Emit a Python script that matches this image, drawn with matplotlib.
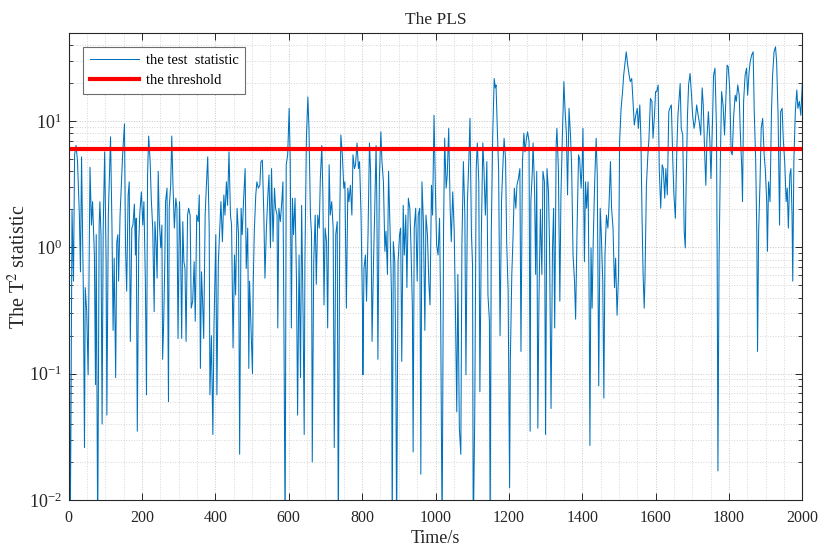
import numpy as np
import matplotlib
matplotlib.use("Agg")
import matplotlib.pyplot as plt
from matplotlib.ticker import LogLocator, MultipleLocator, NullFormatter, LogFormatterMathtext

plt.rcParams['font.family'] = ['Liberation Serif', 'DejaVu Serif']
plt.rcParams['mathtext.fontset'] = 'stix'

# values, in 400 s chunks
t_0 = [0, 2, 4, 6, 9, 13, 16, 20, 24, 29,
       32, 35, 40, 43, 45, 49, 53, 58, 62, 65,
       70, 73, 75, 79, 83, 85, 88, 91, 94, 98,
       102, 104, 108, 112, 114, 118, 121, 124, 128, 131,
       134, 136, 140, 144, 147, 152, 155, 158, 162, 165,
       168, 172, 175, 179, 182, 184, 187, 191, 194, 198,
       202, 205, 209, 212, 215, 218, 222, 225, 229, 233,
       235, 238, 241, 244, 247, 251, 254, 256, 259, 262,
       264, 268, 272, 274, 278, 281, 284, 288, 292, 295,
       298, 302, 305, 308, 311, 314, 317, 320, 324, 327,
       331, 334, 338, 342, 345, 349, 353, 356, 359, 362,
       365, 368, 372, 375, 379, 383, 385, 389, 393, 396]
v_0 = [0.16, 0.18, 0.005, 0.037, 2.0, 0.54, 5.4, 6.4, 4.8, 1.8,
       0.64, 5.2, 0.42, 0.026, 0.48, 0.31, 0.098, 4.3, 1.5, 2.3,
       0.87, 0.082, 1.26, 0.005, 1.5, 2.3, 1.26, 0.04, 1.42, 5.7,
       0.77, 0.047, 1.8, 4.8, 7.5, 1.42, 0.22, 0.82, 0.093, 1.1,
       1.26, 0.54, 1.8, 3.3, 5.4, 9.5, 0.99, 0.45, 2.6, 3.3,
       0.18, 1.42, 1.5, 2.2, 0.87, 1.7, 0.035, 1.11, 1.9, 2.75,
       1.5, 2.3, 0.54, 0.068, 3.74, 7.6, 4.8, 2.45, 1.42, 0.31,
       1.6, 1.11, 0.57, 4.0, 1.6, 0.99, 1.5, 0.13, 0.26, 0.77,
       2.3, 2.94, 0.06, 2.04, 3.1, 7.6, 3.3, 1.42, 2.45, 2.04,
       0.19, 2.3, 0.99, 0.19, 1.6, 0.77, 0.68, 0.18, 1.8, 2.04,
       1.8, 0.33, 0.375, 0.77, 0.26, 1.8, 1.6, 2.6, 0.11, 0.64,
       0.375, 0.19, 1.8, 2.94, 5.2, 1.42, 0.068, 0.2, 0.033, 0.23]

t_400 = [401, 404, 408, 412, 415, 419, 423, 426, 430, 433,
         437, 441, 444, 448, 452, 455, 459, 463, 466, 470,
         473, 477, 481, 484, 488, 491, 493, 497, 501, 503,
         506, 510, 513, 517, 521, 524, 528, 532, 535, 539,
         543, 546, 550, 553, 557, 561, 564, 568, 570, 573,
         577, 581, 584, 587, 590, 593, 597, 601, 604, 607,
         610, 613, 617, 621, 624, 628, 632, 635, 639, 642,
         644, 648, 652, 655, 659, 662, 664, 668, 672, 675,
         679, 683, 686, 690, 693, 696, 699, 703, 706, 710,
         713, 717, 721, 724, 728, 732, 735, 739, 742, 746,
         750, 753, 757, 761, 764, 768, 772, 775, 779, 782,
         786, 790, 793, 797, 801]
v_400 = [1.26, 0.068, 0.77, 1.42, 2.3, 1.11, 2.6, 1.8, 3.3, 2.15,
         5.7, 1.8, 1.5, 0.16, 0.87, 0.42, 2.04, 1.26, 0.023, 2.04,
         1.26, 2.45, 4.2, 0.68, 1.42, 0.11, 0.54, 0.23, 0.1, 0.51,
         1.34, 2.6, 3.3, 2.94, 3.1, 4.77, 4.9, 1.8, 0.57, 1.42,
         2.6, 3.74, 0.99, 4.2, 1.11, 2.94, 2.04, 1.8, 0.23, 2.04,
         1.6, 2.3, 3.3, 0.18, 0.005, 4.5, 5.4, 12.6, 4.77, 0.23,
         2.45, 1.26, 2.45, 0.54, 0.047, 0.87, 0.093, 2.15, 0.29, 0.033,
         0.77, 7.3, 15.5, 8.75, 1.8, 1.26, 0.02, 0.77, 1.8, 0.51,
         1.8, 1.42, 3.5, 6.4, 2.6, 0.35, 1.42, 1.11, 0.23, 4.5,
         1.8, 2.3, 1.42, 0.026, 1.26, 1.6, 0.005, 1.8, 7.75, 5.4,
         2.94, 3.3, 0.33, 2.94, 2.3, 3.1, 1.8, 5.4, 4.2, 4.5,
         6.7, 4.2, 4.77, 1.8, 0.31]

t_800 = [802, 805, 809, 812, 816, 820, 823, 827, 831, 834,
         838, 840, 843, 847, 851, 854, 858, 862, 865, 869,
         872, 876, 880, 882, 885, 889, 892, 894, 898, 902,
         905, 908, 912, 915, 919, 922, 926, 930, 933, 937,
         939, 942, 946, 950, 953, 957, 960, 963, 967, 971,
         974, 978, 982, 985, 989, 992, 996, 1000, 1003, 1007,
         1011, 1014, 1018, 1022, 1025, 1029, 1032, 1036, 1040, 1043,
         1047, 1051, 1054, 1058, 1061, 1065, 1069, 1072, 1076, 1080,
         1083, 1087, 1091, 1094, 1098, 1101, 1103, 1107, 1111, 1114,
         1118, 1121, 1125, 1129, 1132, 1136, 1140, 1143, 1147, 1149,
         1152, 1156, 1160, 1163, 1165, 1169, 1172, 1176, 1180, 1183,
         1187, 1191, 1194, 1198, 1202]
v_800 = [0.098, 0.68, 0.87, 0.375, 1.26, 6.7, 4.0, 0.18, 0.77, 1.8,
         6.4, 2.3, 0.13, 3.5, 8.2, 4.77, 3.3, 0.93, 1.34, 0.61,
         4.0, 1.42, 0.42, 0.005, 1.11, 0.77, 0.093, 0.005, 0.77, 1.26,
         1.42, 0.125, 2.15, 0.87, 1.8, 0.48, 2.45, 2.04, 1.05, 0.33,
         0.024, 1.42, 2.04, 0.54, 1.8, 2.04, 0.016, 3.3, 1.6, 0.22,
         1.8, 1.26, 0.51, 0.35, 3.1, 1.8, 11.1, 2.6, 1.05, 0.87,
         1.7, 0.33, 0.005, 1.42, 7.3, 2.94, 3.74, 8.75, 2.04, 1.11,
         2.75, 1.34, 0.375, 0.05, 0.61, 0.037, 0.023, 1.05, 4.77, 1.8,
         0.098, 2.3, 5.0, 10.5, 1.26, 0.72, 0.005, 0.047, 4.2, 6.7,
         3.3, 0.072, 1.26, 6.7, 4.2, 1.8, 4.77, 0.42, 0.26, 0.005,
         1.26, 7.75, 21.7, 18.3, 19.3, 7.75, 4.2, 0.2, 2.3, 4.0,
         7.3, 5.0, 1.11, 0.45, 0.0125]

t_1200 = [1204, 1208, 1211, 1215, 1219, 1222, 1226, 1230, 1233, 1237,
          1241, 1244, 1248, 1251, 1255, 1258, 1260, 1264, 1266, 1270,
          1273, 1276, 1279, 1282, 1286, 1290, 1293, 1297, 1300, 1304,
          1308, 1311, 1315, 1319, 1322, 1325, 1329, 1331, 1335, 1339,
          1342, 1346, 1350, 1353, 1357, 1360, 1364, 1368, 1371, 1375,
          1379, 1382, 1386, 1390, 1393, 1397, 1400, 1402, 1406, 1409,
          1412, 1416, 1419, 1421, 1424, 1427, 1430, 1434, 1438, 1441,
          1445, 1449, 1452, 1456, 1459, 1462, 1466, 1470, 1473, 1477,
          1480, 1484, 1488, 1491, 1495, 1499, 1502, 1506, 1510, 1513,
          1517, 1520, 1524, 1528, 1531, 1535, 1539, 1542, 1546, 1550,
          1553, 1557, 1560, 1563, 1566, 1569, 1571, 1575, 1579, 1582,
          1586, 1590, 1593, 1597, 1600]
v_1200 = [0.125, 0.61, 1.11, 2.94, 2.04, 3.1, 3.5, 4.2, 0.15, 4.77,
          8.0, 5.7, 7.3, 8.2, 6.9, 0.035, 2.3, 4.0, 6.7, 2.94,
          0.61, 4.0, 0.037, 0.375, 2.0, 0.61, 4.0, 3.3, 0.033, 4.2,
          2.75, 0.99, 0.053, 0.99, 2.04, 0.23, 6.6, 8.75, 4.2, 0.375,
          2.6, 7.75, 20.5, 12.6, 7.75, 2.6, 12.6, 7.75, 4.5, 0.87,
          0.54, 0.27, 1.42, 5.4, 5.0, 2.94, 4.77, 8.75, 0.77, 3.3,
          2.04, 3.3, 0.35, 0.027, 0.99, 0.33, 1.11, 3.3, 7.3, 3.74,
          0.08, 2.04, 1.26, 0.54, 0.064, 0.87, 1.8, 1.42, 2.15, 4.77,
          2.04, 1.42, 0.48, 0.82, 0.29, 0.61, 6.9, 12.6, 17.1, 23,
          29.5, 35.3, 27.7, 23, 20.5, 21.7, 13.4, 9.3, 11.1, 12.6,
          8.75, 13.4, 7.3, 1.8, 0.61, 0.33, 0.54, 3.1, 5.4, 7.3,
          15.1, 14.3, 7.3, 11.1, 17.1]

t_1600 = [1603, 1607, 1610, 1614, 1618, 1621, 1625, 1628, 1632, 1636,
          1639, 1643, 1647, 1650, 1654, 1658, 1661, 1667, 1670, 1674,
          1678, 1681, 1683, 1687, 1690, 1694, 1698, 1701, 1705, 1708,
          1712, 1716, 1719, 1723, 1727, 1730, 1734, 1737, 1740, 1744,
          1748, 1751, 1755, 1758, 1762, 1766, 1768, 1770, 1773, 1777,
          1780, 1784, 1788, 1791, 1795, 1798, 1802, 1806, 1809, 1813,
          1817, 1820, 1824, 1828, 1831, 1835, 1837, 1840, 1844, 1848,
          1851, 1855, 1858, 1862, 1866, 1869, 1873, 1876, 1878, 1881,
          1885, 1888, 1892, 1896, 1899, 1903, 1905, 1908, 1912, 1916,
          1919, 1923, 1927, 1930, 1934, 1938, 1941, 1945, 1948, 1952,
          1956, 1959, 1962, 1966, 1969, 1972, 1974, 1977, 1981, 1985,
          1988, 1992, 1996, 2000]
v_1600 = [17.1, 19.3, 4.2, 2.04, 4.5, 4.2, 2.45, 4.2, 2.6, 11.85,
          12.6, 13.4, 4.77, 2.6, 1.7, 6.1, 11.1, 19.8, 8.75, 7.75,
          1.34, 0.99, 2.75, 11.1, 19.3, 23.8, 16, 11.1, 8.75, 9.9,
          13.4, 11.1, 9.9, 7.75, 18.3, 13.4, 5.4, 3.1, 7.3, 11.85,
          6.9, 3.5, 9.3, 22.9, 26.2, 8.75, 0.77, 0.017, 0.77, 5.7,
          17.1, 13.4, 7.75, 13.4, 27.7, 27, 18.3, 5.7, 5.4, 11.1,
          16, 14.3, 19.3, 16, 8.2, 4.2, 2.3, 14.3, 22.9, 26.2,
          16, 24.5, 29.5, 33.3, 35.3, 11.85, 4.77, 1.26, 0.15, 1.34,
          3.5, 8.75, 10.5, 5.4, 4.2, 2.3, 0.93, 3.3, 2.3, 11.85,
          22.9, 35.3, 38.7, 29.5, 11.1, 1.5, 11.85, 12.6, 7.3, 4.77,
          2.3, 2.94, 1.42, 3.74, 4.2, 1.8, 0.54, 4.77, 11.85, 17.6,
          12.6, 14.3, 11.1, 19.8]

threshold = 6.0


def build_series():
    t = np.concatenate([t_0, t_400, t_800, t_1200, t_1600])
    v = np.concatenate([v_0, v_400, v_800, v_1200, v_1600])
    return t, v


def plot_pls(t, v):
    fig = plt.figure(figsize=(8.19, 5.48), dpi=100)
    ax = fig.add_axes([0.0839, 0.0876, 0.8957, 0.8527])

    ax.plot(t, v, color='#0072BD', lw=0.75, label='the test  statistic')
    ax.plot([0, 2000], [threshold, threshold], color='#FF0000', lw=3.0, label='the threshold')

    ax.set_yscale('log')
    ax.set_xlim(0, 2000)
    ax.set_ylim(0.01, 50)

    ax.xaxis.set_major_locator(MultipleLocator(200))
    ax.xaxis.set_minor_locator(MultipleLocator(50))
    ax.yaxis.set_major_locator(LogLocator(base=10, numticks=10))
    ax.yaxis.set_minor_locator(LogLocator(base=10, subs=np.arange(2, 10), numticks=20))
    ax.yaxis.set_major_formatter(LogFormatterMathtext())
    ax.yaxis.set_minor_formatter(NullFormatter())

    ax.tick_params(which='both', direction='in', top=True, right=True,
                   color='#262626', labelcolor='#262626')
    ax.tick_params(axis='x', which='major', length=5, width=0.7, labelsize=11.5, pad=7)
    ax.tick_params(axis='y', which='major', length=5, width=0.7, labelsize=13, pad=5)
    ax.tick_params(axis='y', which='minor', length=3, width=0.6)
    ax.tick_params(axis='x', which='minor', length=0)
    for s in ax.spines.values():
        s.set_color('#262626')
        s.set_linewidth(0.8)

    ax.grid(True, which='major', linestyle=':', color='#c8c8c8', lw=0.7)
    ax.grid(True, which='minor', linestyle=':', color='#d6d6d6', lw=0.7)
    ax.set_axisbelow(True)

    ax.set_title('The PLS', fontsize=12.5, color='#262626', pad=6)
    ax.set_xlabel('Time/s', fontsize=13, color='#262626')
    ax.set_ylabel('The T$^2$ statistic', fontsize=14.5, color='#262626')
    ax.xaxis.set_label_coords(0.5, -0.064)
    ax.yaxis.set_label_coords(-0.052, 0.5)

    leg = ax.legend(loc='upper left', bbox_to_anchor=(0.0195, 0.969), borderaxespad=0,
                    fontsize=10.5, fancybox=False, framealpha=1, edgecolor='#6e6e6e',
                    handlelength=3.4, handletextpad=0.45, borderpad=0.45, labelspacing=0.5)
    leg.get_frame().set_linewidth(0.8)

    fig.savefig('out.png', dpi=100)


if __name__ == "__main__":
    t, v = build_series()
    plot_pls(t, v)
